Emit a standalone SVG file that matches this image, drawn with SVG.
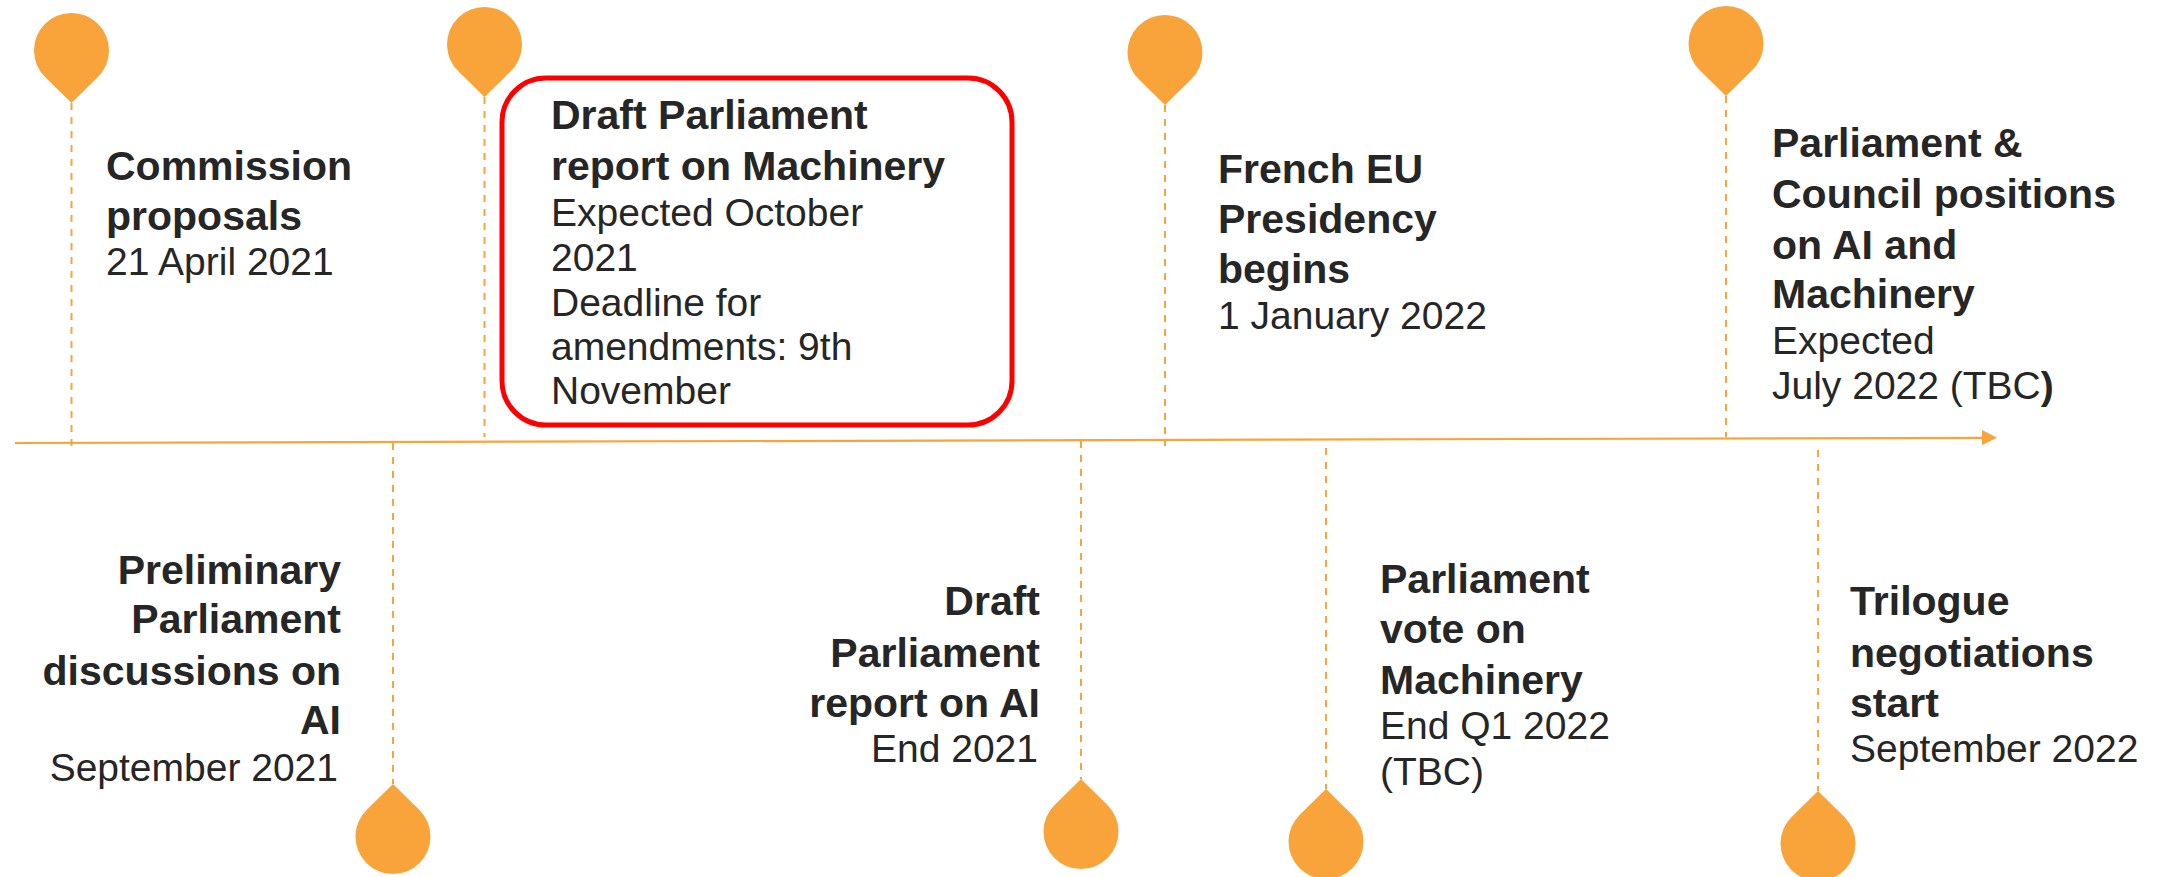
<svg xmlns="http://www.w3.org/2000/svg" width="2172" height="877" viewBox="0 0 2172 877">
<style>
.pin{fill:#F9A33B}
.dash{stroke:#F9A33B;stroke-width:2;stroke-dasharray:7 7;fill:none}
.axis{stroke:#F9A33B;stroke-width:2.2;fill:none}
.b{font-family:"Liberation Sans",Arial,sans-serif;font-weight:bold;font-size:41px;fill:#262626}
.r{font-family:"Liberation Sans",Arial,sans-serif;font-size:39px;fill:#262626}
.e{text-anchor:end}
</style>
<defs>
<path id="pinDown" d="M0,0 L-26.2,-25.7 A37.5 37.5 0 1 1 26.2,-25.7 Z"/>
<path id="pinUp" d="M0,0 L-26.2,25.7 A37.5 37.5 0 1 0 26.2,25.7 Z"/>
</defs>
<rect width="2172" height="877" fill="#FFFFFF"/>
<g id="connectors">
<line class="axis" x1="15" y1="443" x2="1984" y2="437.8"/>
<polygon class="pin" points="1982,430 1997,437.7 1982,445"/>
<line class="dash" x1="71.5" y1="103" x2="71.5" y2="446"/>
<line class="dash" x1="484.5" y1="97" x2="484.5" y2="437"/>
<line class="dash" x1="1165" y1="105" x2="1165" y2="446"/>
<line class="dash" x1="1726" y1="96" x2="1726" y2="437"/>
<line class="dash" x1="393" y1="443" x2="393" y2="784"/>
<line class="dash" x1="1081" y1="441" x2="1081" y2="779"/>
<line class="dash" x1="1326" y1="448" x2="1326" y2="789"/>
<line class="dash" x1="1818" y1="450" x2="1818" y2="791"/>
</g>
<g id="node-commission">
<use href="#pinDown" class="pin" x="71.5" y="103"/>
<text class="b" x="106" y="180">Commission</text>
<text class="b" x="106" y="230">proposals</text>
<text class="r" x="106" y="275">21 April 2021</text>
</g>
<g id="node-draft-machinery">
<use href="#pinDown" class="pin" x="484.5" y="97"/>
<rect x="502" y="78" width="510" height="347" rx="44" fill="none" stroke="#FF0000" stroke-width="5"/>
<text class="b" x="551" y="129">Draft Parliament</text>
<text class="b" x="551" y="180">report on Machinery</text>
<text class="r" x="551" y="226">Expected October</text>
<text class="r" x="551" y="271">2021</text>
<text class="r" x="551" y="316">Deadline for</text>
<text class="r" x="551" y="360">amendments: 9th</text>
<text class="r" x="551" y="404">November</text>
</g>
<g id="node-french-presidency">
<use href="#pinDown" class="pin" x="1165" y="105"/>
<text class="b" x="1218" y="183">French EU</text>
<text class="b" x="1218" y="233">Presidency</text>
<text class="b" x="1218" y="283">begins</text>
<text class="r" x="1218" y="329">1 January 2022</text>
</g>
<g id="node-positions">
<use href="#pinDown" class="pin" x="1726" y="96"/>
<text class="b" x="1772" y="157">Parliament &amp;</text>
<text class="b" x="1772" y="208">Council positions</text>
<text class="b" x="1772" y="259">on AI and</text>
<text class="b" x="1772" y="308">Machinery</text>
<text class="r" x="1772" y="354">Expected</text>
<text class="r" x="1772" y="399">July 2022 (TBC<tspan font-weight="bold">)</tspan></text>
</g>
<g id="node-preliminary">
<use href="#pinUp" class="pin" x="393" y="784"/>
<text class="b e" x="341" y="584">Preliminary</text>
<text class="b e" x="341" y="633">Parliament</text>
<text class="b e" x="341" y="685">discussions on</text>
<text class="b e" x="341" y="734">AI</text>
<text class="r e" x="338" y="781">September 2021</text>
</g>
<g id="node-draft-ai">
<use href="#pinUp" class="pin" x="1081" y="779"/>
<text class="b e" x="1040" y="615">Draft</text>
<text class="b e" x="1040" y="667">Parliament</text>
<text class="b e" x="1040" y="717">report on AI</text>
<text class="r e" x="1038" y="762">End 2021</text>
</g>
<g id="node-vote">
<use href="#pinUp" class="pin" x="1326" y="789"/>
<text class="b" x="1380" y="593">Parliament</text>
<text class="b" x="1380" y="643">vote on</text>
<text class="b" x="1380" y="694">Machinery</text>
<text class="r" x="1380" y="739">End Q1 2022</text>
<text class="r" x="1380" y="785">(TBC)</text>
</g>
<g id="node-trilogue">
<use href="#pinUp" class="pin" x="1818" y="791"/>
<text class="b" x="1850" y="615">Trilogue</text>
<text class="b" x="1850" y="667">negotiations</text>
<text class="b" x="1850" y="717">start</text>
<text class="r" x="1850" y="762">September 2022</text>
</g>
</svg>
